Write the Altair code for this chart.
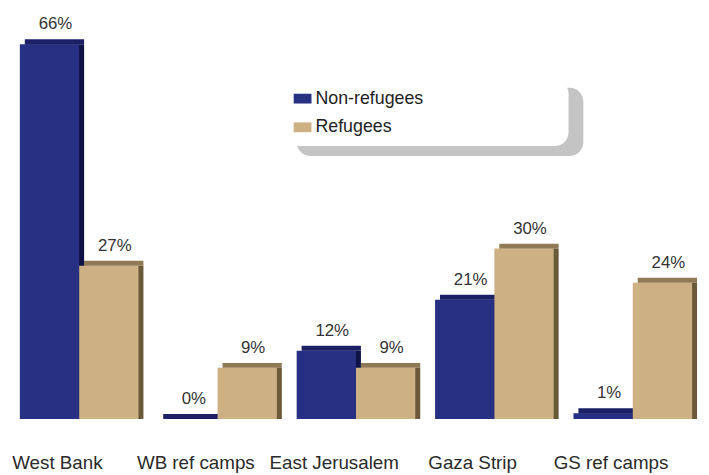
import altair as alt
import pandas as pd

categories = ["West Bank", "WB ref camps", "East Jerusalem", "Gaza Strip", "GS ref camps"]
series = ["Non-refugees", "Refugees"]
non_refugees = [66, 0, 12, 21, 1]
refugees = [27, 9, 9, 30, 24]

rows = []
for c, a, b in zip(categories, non_refugees, refugees):
    rows.append({"cat": c, "grp": series[0], "val": a, "lbl": f"{a}%"})
    rows.append({"cat": c, "grp": series[1], "val": b, "lbl": f"{b}%"})
df = pd.DataFrame(rows)

front = ["#283084", "#cdb083"]
top_face = ["#1c2166", "#8f7a55"]
side_face = ["#0f1245", "#6b5a3a"]

FONT = "Liberation Sans"
RECT = "M-1,-0.55H1V0.55H-1Z"

x = alt.X("cat:N", sort=categories, title=None,
          scale=alt.Scale(paddingInner=0.1429, paddingOuter=0.0464, align=0.923),
          axis=alt.Axis(labelAngle=0, ticks=False, domain=False, labelPadding=35,
                        labelOffset=-22, labelBaseline="top",
                        labelFontSize=19, labelColor="#2a2a2a", labelFont=FONT))
xo_main = alt.XOffset("grp:N", sort=series, scale=alt.Scale(paddingInner=0, paddingOuter=0))
xo_text = alt.XOffset("grp:N", sort=series,
                      scale=alt.Scale(type="band", paddingInner=0, paddingOuter=0))
xo_shift = alt.XOffset("grp:N", sort=series,
                       scale=alt.Scale(range=[5, 125], paddingInner=0, paddingOuter=0))
y = alt.Y("val:Q", scale=alt.Scale(domain=[0, 70], nice=False), axis=None)

base = alt.Chart(df)

legend_common = dict(title="\u00a0", titleOrient="right", titleFontSize=10,
                     orient="none", symbolType=RECT, symbolSize=324,
                     labelFontSize=18, labelFont=FONT, labelOffset=4,
                     rowPadding=11, padding=10, cornerRadius=14)

# top face of each bar: a thin strip above the bar, shifted right
top_layer = base.mark_bar(yOffset=-5).encode(
    x=x, xOffset=xo_shift, y=y, y2=alt.Y2("val:Q"),
    color=alt.Color("grp:N", sort=series, scale=alt.Scale(domain=series, range=top_face), legend=None),
)

# side face of each bar
side_layer = base.mark_bar().encode(
    x=x, xOffset=xo_shift, y=y,
    color=alt.Color("grp:N", sort=series, scale=alt.Scale(domain=series, range=side_face),
                    legend=alt.Legend(legendX=292, legendY=67, symbolOpacity=0, labelExpr="''",
                                      titlePadding=246,
                                      fillColor="#c4c4c4", zindex=1, **legend_common)),
)

bars = base.mark_bar().encode(
    x=x, xOffset=xo_main, y=y,
    color=alt.Color("grp:N", sort=series, scale=alt.Scale(domain=series, range=front),
                    legend=alt.Legend(legendX=279, legendY=59, symbolStrokeWidth=0,
                                      titlePadding=137,
                                      labelColor="#222222", fillColor="white", zindex=2,
                                      **legend_common)),
)

labels = base.mark_text(baseline="alphabetic", dy=-15, dx=6, fontSize=17,
                        font=FONT, color="#333333").encode(
    x=x, xOffset=xo_text, y=y, text="lbl:N",
)

chart = alt.layer(top_layer, side_layer, bars, labels).resolve_scale(
    color="independent", xOffset="independent"
).properties(
    width=693, height=402,
    padding={"left": 0, "top": 11, "right": 8, "bottom": 52},
    autosize=alt.AutoSizeParams(type="none"),
).configure(background="white").configure_view(stroke=None)

chart.save("out.html", embed_options={"renderer": "svg", "actions": False})
